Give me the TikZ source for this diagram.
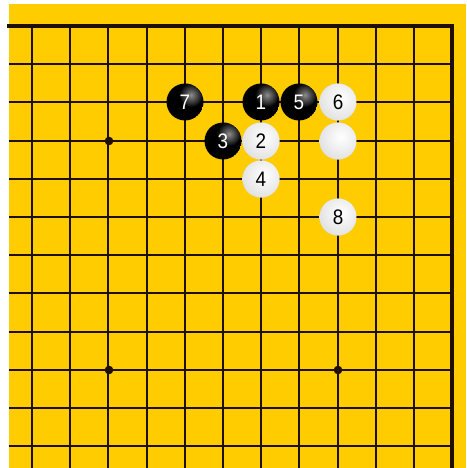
\documentclass[tikz,border=0pt]{standalone}
\usepackage{fontspec}
\setmainfont{Liberation Sans}
\definecolor{board}{RGB}{255,204,0}
\definecolor{gridc}{RGB}{30,15,0}
\tikzset{
  gridline/.style={draw=gridc, line width=2pt},
  edgeline/.style={draw=gridc, line width=3.5pt, line cap=rect},
  stonenum/.style={inner sep=0pt, font=\fontsize{21}{21}\selectfont, xscale=0.9},
  bnum/.style={stonenum, text=white},
  wnum/.style={stonenum, text=black},
}
\newcommand\bstone[4]{%
  \pgfmathsetmacro\cx{round(32+38.2*#2)}%
  \pgfmathsetmacro\cy{round(26+38.2*#3)}%
  \begin{scope}[shift={(\cx,\cy)}]
    \begin{scope}
      \clip (0,0) circle (18.5);
      \fill[black] (0,0) circle (18.5);
      \shade[inner color=gray!90!white, outer color=black] (6,-7) circle (12);
    \end{scope}
    \node[bnum] (#1) at (0,0) {#4};
  \end{scope}}
\newcommand\wstone[4]{%
  \pgfmathsetmacro\cx{round(32+38.2*#2)}%
  \pgfmathsetmacro\cy{round(26+38.2*#3)}%
  \begin{scope}[shift={(\cx,\cy)}]
    \begin{scope}
      \clip (0,0) circle (18.5);
      \fill[gray!40] (0,0) circle (18.5);
      \shade[inner color=white, outer color=gray!40] (3,-4) circle (40);
    \end{scope}
    \node[wnum] (#1) at (0,0) {#4};
  \end{scope}}
\begin{document}
\begin{tikzpicture}[x=1pt,y=-1pt]
  \useasboundingbox (0,0) rectangle (466,468);
  \fill[white] (0,0) rectangle (466,468);
  \fill[board] (9,4) rectangle (466,468);
  \foreach \k in {0,...,10} \draw[gridline] ({round(32+38.2*\k)},26) -- ({round(32+38.2*\k)},468);
  \foreach \j in {1,...,11} \draw[gridline] (9,{round(26+38.2*\j)}) -- (452,{round(26+38.2*\j)});
  \draw[edgeline] (9,26) -- (452,26) -- (452,468);
  \foreach \hx/\hy in {109/141, 338/141, 109/370, 338/370}
    \fill[gridc] (\hx,\hy) circle (4.3);
  \bstone{s7}{4}{2}{7}
  \bstone{s1}{6}{2}{1}
  \bstone{s5}{7}{2}{5}
  \wstone{s6}{8}{2}{6}
  \bstone{s3}{5}{3}{3}
  \wstone{s2}{6}{3}{2}
  \wstone{w0}{8}{3}{}
  \wstone{s4}{6}{4}{4}
  \wstone{s8}{8}{5}{8}
\end{tikzpicture}
\end{document}
